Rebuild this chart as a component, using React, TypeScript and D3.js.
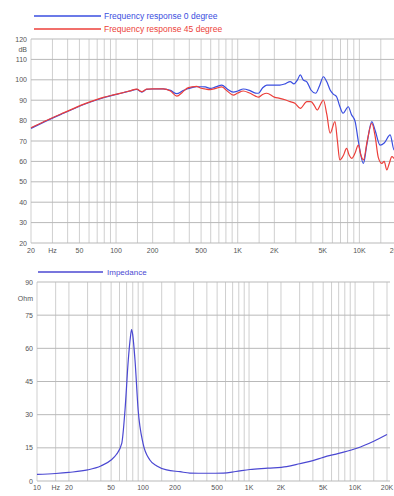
import React from 'react';
import * as d3 from 'd3';

// frequency response, 0 degree (Hz, dB)
const resp0Freq = [20, 25, 30, 37, 45, 55, 69, 80, 95, 110, 130, 148, 163, 178, 200, 244, 280, 316, 350, 382, 420, 460, 494, 540, 593, 660, 740, 820, 920, 1000, 1112, 1250, 1400, 1480, 1600, 1734, 2000, 2220, 2450, 2700, 2900, 3100, 3270, 3450, 3700, 4000, 4370, 4700, 5060, 5400, 5750, 6100, 6500, 6900, 7340, 8100, 8600, 9230, 9800, 10800, 11500, 12650, 13500, 14800, 16000, 17900, 19300, 20000];
const resp0Db = [76.2, 79, 81.2, 83.6, 85.8, 88, 90.1, 91.3, 92.5, 93.4, 94.5, 95.3, 94, 95.3, 95.5, 95.6, 94.8, 93.2, 94.5, 95.5, 96.2, 96.6, 96.6, 96.5, 95.8, 96.5, 97.4, 95.5, 94, 94.5, 95.5, 94.8, 93.5, 93.4, 96, 97.4, 97.4, 97.4, 98, 99.1, 98, 100, 102.4, 100, 99, 95, 93.4, 97, 101.5, 99, 95, 93, 91.7, 87, 83.6, 86.8, 83, 79.5, 70, 59, 68, 79.5, 75, 68, 69, 73, 65.6, 66];

// frequency response, 45 degree (Hz, dB)
const resp45Freq = [20, 25, 30, 37, 45, 55, 69, 80, 95, 110, 130, 148, 163, 178, 200, 244, 280, 316, 350, 382, 420, 460, 494, 540, 593, 660, 740, 820, 920, 1000, 1112, 1250, 1400, 1480, 1600, 1734, 2000, 2220, 2450, 2700, 2950, 3270, 3700, 4000, 4300, 4500, 4800, 5060, 5400, 5750, 6300, 6600, 6900, 7400, 7850, 8250, 8650, 9200, 9800, 10300, 10800, 11600, 12650, 13500, 14300, 15300, 16000, 16800, 17600, 18500, 20000];
const resp45Db = [76.5, 79.2, 81.4, 83.8, 86, 88.2, 90.3, 91.5, 92.6, 93.5, 94.6, 95.4, 94.2, 95.4, 95.6, 95.6, 94.5, 92, 93.8, 95.8, 96.5, 96.8, 96, 95.5, 95.2, 95.8, 96.5, 94.5, 92.5, 93.5, 94.5, 93.5, 92, 91.5, 92.8, 93.4, 91.5, 90.9, 90.2, 89.3, 88.5, 86, 89.3, 89.3, 87, 85.2, 88, 90.1, 83, 73.8, 79.5, 70, 60.7, 63, 66.4, 63, 61.5, 64, 68, 63, 60.7, 70, 78.7, 72, 62, 59, 60, 55.8, 59, 62.3, 60];

// impedance (Hz, Ohm)
const impFreq = [10, 15, 20, 30, 40, 50, 56, 63, 67.6, 72.6, 76, 78, 80, 84, 90, 100, 116, 135, 167, 223, 277, 400, 571, 750, 1018, 1500, 2260, 3000, 4000, 5010, 7000, 10400, 15000, 20000];
const impOhm = [3.0, 3.4, 3.9, 5, 6.8, 9.5, 12, 17, 32, 54.7, 65, 68.5, 66, 54.7, 32, 17, 9.5, 6.8, 5, 4.2, 3.6, 3.5, 3.6, 4.3, 5.2, 5.8, 6.5, 7.8, 9.2, 10.7, 12.5, 14.8, 18, 21];

const dbTicks = [20, 30, 40, 50, 60, 70, 80, 90, 100, 110, 120];
const ohmTicks = [0, 15, 30, 45, 60, 75, 90];
const topFreqLabels = [
  { f: 20, t: '20' }, { f: 30, t: 'Hz' }, { f: 50, t: '50' }, { f: 100, t: '100' }, { f: 200, t: '200' },
  { f: 500, t: '500' }, { f: 1000, t: '1K' }, { f: 2000, t: '2K' }, { f: 5000, t: '5K' }, { f: 10000, t: '10K' }, { f: 20000, t: '20K' },
];
const bottomFreqLabels = [
  { f: 10, t: '10' }, { f: 15, t: 'Hz' }, { f: 20, t: '20' }, { f: 50, t: '50' }, { f: 100, t: '100' }, { f: 200, t: '200' },
  { f: 500, t: '500' }, { f: 1000, t: '1K' }, { f: 2000, t: '2K' }, { f: 5000, t: '5K' }, { f: 10000, t: '10K' }, { f: 20000, t: '20K' },
];
const gridSteps = [1, 1.5, 2, 3, 4, 5, 6, 7, 8, 9];

const FONT = 'Liberation Sans, Arial, sans-serif';
const BLUE = '#3a4ee0';
const RED = '#ec3f3a';
const IMP = '#4b48d2';

function gridFreqs(lo: number, hi: number) {
  const out: number[] = [];
  for (let dec = 1; dec <= 100000; dec *= 10) {
    gridSteps.forEach((s) => {
      const f = s * dec;
      if (f >= lo && f <= hi) out.push(f);
    });
  }
  return out;
}

function zip(fs: number[], vs: number[]) {
  return fs.map((f, i) => [f, vs[i]] as [number, number]);
}

export default function App() {
  // upper chart: frequency response
  const x1 = d3.scaleLog().domain([20, 20000]).range([31, 396]);
  const y1 = d3.scaleLinear().domain([20, 120]).range([243, 39]);
  const line1 = d3.line<[number, number]>()
    .x((d) => x1(d[0]))
    .y((d) => y1(d[1]))
    .curve(d3.curveMonotoneX);

  // lower chart: impedance
  const x2 = d3.scaleLog().domain([10, 20000]).range([37, 387]);
  const y2 = d3.scaleLinear().domain([0, 90]).range([481, 282]);
  const line2 = d3.line<[number, number]>()
    .x((d) => x2(d[0]))
    .y((d) => y2(d[1]))
    .curve(d3.curveMonotoneX);

  const txt = { fontFamily: FONT, fontSize: 7, fill: '#555' } as const;

  return (
    <svg width={394} height={496} style={{ position: 'absolute', left: 0, top: 0, background: '#fff' }}>
      {/* legend top */}
      <line x1={34} x2={101} y1={16} y2={16} stroke={BLUE} strokeWidth={1.3} />
      <text x={104} y={19} fontFamily={FONT} fontSize={8.5} fill={BLUE}>Frequency response 0 degree</text>
      <line x1={34} x2={101} y1={29} y2={29} stroke={RED} strokeWidth={1.3} />
      <text x={104} y={32} fontFamily={FONT} fontSize={8.5} fill={RED}>Frequency response 45 degree</text>

      {/* upper grid */}
      {gridFreqs(20, 20000).map((f) => (
        <line key={'v1' + f} x1={x1(f)} x2={x1(f)} y1={39} y2={243} stroke="#cfcfcf" strokeWidth={1} />
      ))}
      {dbTicks.map((v) => (
        <line key={'h1' + v} x1={31} x2={396} y1={y1(v)} y2={y1(v)} stroke="#b9b9b9" strokeWidth={1} />
      ))}
      {dbTicks.map((v) => (
        <text key={'l1' + v} x={27} y={y1(v) + 2.5} textAnchor="end" {...txt}>{v}</text>
      ))}
      <text x={27} y={52} textAnchor="end" {...txt}>dB</text>
      {topFreqLabels.map((d) => (
        <text key={'fx1' + d.t} x={x1(d.f)} y={253} textAnchor="middle" {...txt}>{d.t}</text>
      ))}
      <path d={line1(zip(resp0Freq, resp0Db)) || ''} fill="none" stroke={BLUE} strokeWidth={1.2} />
      <path d={line1(zip(resp45Freq, resp45Db)) || ''} fill="none" stroke={RED} strokeWidth={1.2} />

      {/* legend bottom */}
      <line x1={38} x2={103} y1={272} y2={272} stroke={IMP} strokeWidth={1.3} />
      <text x={107} y={275} fontFamily={FONT} fontSize={8} fill={IMP}>Impedance</text>

      {/* lower grid */}
      {gridFreqs(10, 20000).map((f) => (
        <line key={'v2' + f} x1={x2(f)} x2={x2(f)} y1={282} y2={481} stroke="#cfcfcf" strokeWidth={1} />
      ))}
      {ohmTicks.map((v) => (
        <line key={'h2' + v} x1={37} x2={390} y1={y2(v)} y2={y2(v)} stroke="#b9b9b9" strokeWidth={1} />
      ))}
      {ohmTicks.map((v) => (
        <text key={'l2' + v} x={33} y={y2(v) + 2.5} textAnchor="end" {...txt}>{v}</text>
      ))}
      <text x={33} y={301} textAnchor="end" {...txt}>Ohm</text>
      {bottomFreqLabels.map((d) => (
        <text key={'fx2' + d.t} x={x2(d.f)} y={490} textAnchor="middle" {...txt}>{d.t}</text>
      ))}
      <path d={line2(zip(impFreq, impOhm)) || ''} fill="none" stroke={IMP} strokeWidth={1.2} />
    </svg>
  );
}
